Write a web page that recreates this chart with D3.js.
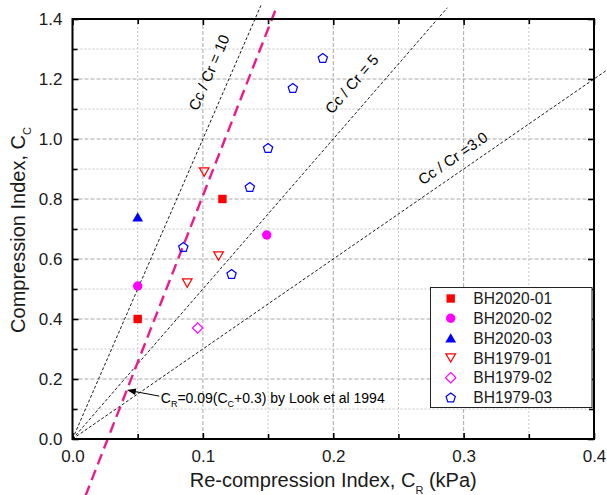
<!DOCTYPE html>
<html><head><meta charset="utf-8">
<script src="https://cdn.jsdelivr.net/npm/d3@7"></script>
<style>
html,body{margin:0;padding:0;background:#fff;}
svg{display:block;font-family:Arial,"Liberation Sans",sans-serif;}
</style></head>
<body><svg id="c" width="607" height="495"></svg>
<script>
// ---------- data ----------
const seriesNames = ["BH2020-01","BH2020-02","BH2020-03","BH1979-01","BH1979-02","BH1979-03"];
const bh2020_01 = [[0.050,0.40],[0.115,0.80]];
const bh2020_02 = [[0.050,0.51],[0.149,0.68]];
const bh2020_03 = [[0.050,0.74]];
const bh1979_01 = [[0.101,0.89],[0.112,0.61],[0.088,0.52]];
const bh1979_02 = [[0.096,0.37]];
const bh1979_03 = [[0.085,0.64],[0.122,0.55],[0.136,0.84],[0.150,0.97],[0.169,1.17],[0.192,1.27]];
const ratioValues = [10, 5, 3];           // Cc/Cr reference lines
const ratioEndX = [0.1445, 0.2875, 0.409]; // where each reference line stops
const ratioLabels = ["Cc / Cr = 10", "Cc / Cr = 5", "Cc / Cr =3.0"];
const ratioLabelPos = [[0.1047,1.2217],[0.2142,1.1833],[0.2917,0.9357]];
const lookCcRange = [-0.19, 1.435];       // Cc range of CR = 0.09(Cc+0.3)
const xTicks = [0.0,0.1,0.2,0.3,0.4];
const xMinor = [0.05,0.15,0.25,0.35];
const yTicks = [0.0,0.2,0.4,0.6,0.8,1.0,1.2,1.4];
const yMinor = [0.1,0.3,0.5,0.7,0.9,1.1,1.3];

// ---------- layout ----------
const svg = d3.select("#c");
const L = 72.5, R = 594, T = 19, B = 439;
const x = d3.scaleLinear().domain([0,0.4]).range([L,R]);
const y = d3.scaleLinear().domain([0,1.4]).range([B,T]);
const fmt = d3.format(".1f");

// grid
const g = svg.append("g");
g.selectAll(".gxm").data(xMinor).join("line")
  .attr("x1",d=>x(d)).attr("x2",d=>x(d)).attr("y1",T).attr("y2",B)
  .attr("stroke","#c8c8c8").attr("stroke-dasharray","2,2");
g.selectAll(".gym").data(yMinor).join("line")
  .attr("y1",d=>y(d)).attr("y2",d=>y(d)).attr("x1",L).attr("x2",R)
  .attr("stroke","#c8c8c8").attr("stroke-dasharray","2,2");
g.selectAll(".gx").data(xTicks.slice(1,-1)).join("line")
  .attr("x1",d=>x(d)).attr("x2",d=>x(d)).attr("y1",T).attr("y2",B)
  .attr("stroke","#a8a8a8").attr("stroke-dasharray","4,2");
g.selectAll(".gy").data(yTicks.slice(1,-1)).join("line")
  .attr("y1",d=>y(d)).attr("y2",d=>y(d)).attr("x1",L).attr("x2",R)
  .attr("stroke","#a8a8a8").attr("stroke-dasharray","4,2");

// reference lines Cc/Cr
const line = d3.line().x(d=>x(d[0])).y(d=>y(d[1]));
ratioValues.forEach((r,i)=>{
  svg.append("path").attr("d", line([[0,0],[ratioEndX[i], r*ratioEndX[i]]]))
    .attr("fill","none").attr("stroke","#000").attr("stroke-width",0.9)
    .attr("stroke-dasharray","3,2");
  const ang = -Math.atan2(y(0)-y(r*0.1), x(0.1)-x(0))*180/Math.PI;
  const p = ratioLabelPos[i];
  svg.append("text").attr("transform",`translate(${x(p[0])},${y(p[1])}) rotate(${ang})`)
    .attr("text-anchor","middle").attr("dy","0.35em")
    .attr("font-size",15).text(ratioLabels[i]);
});

// Look et al line
svg.append("path")
  .attr("d", line(lookCcRange.map(c=>[0.09*(c+0.3), c])))
  .attr("fill","none").attr("stroke","#EC1A8C").attr("stroke-width",2.4)
  .attr("stroke-dasharray","11,6");

// annotation arrow
const tip = [0.0417,0.163], tail = [0.0666,0.143];
svg.append("line").attr("x1",x(tail[0])).attr("y1",y(tail[1]))
  .attr("x2",x(tip[0])+6).attr("y2",y(tip[1])+1.1).attr("stroke","#000").attr("stroke-width",1);
{
  const tx=x(tip[0]), ty=y(tip[1]);
  const dx=x(tail[0])-tx, dy=y(tail[1])-ty, len=Math.hypot(dx,dy);
  const ux=dx/len, uy=dy/len, px=-uy, py=ux;
  const hl=9, hw=3.2;
  svg.append("path").attr("d",`M${tx},${ty}L${tx+ux*hl+px*hw},${ty+uy*hl+py*hw}L${tx+ux*hl-px*hw},${ty+uy*hl-py*hw}Z`).attr("fill","#000");
}
const ann = svg.append("text").attr("x",x(0.0677)).attr("y",y(0.12)).attr("font-size",14);
ann.append("tspan").text("C");
ann.append("tspan").attr("font-size",9).attr("dy",4).text("R");
ann.append("tspan").attr("dy",-4).text("=0.09(C");
ann.append("tspan").attr("font-size",9).attr("dy",4).text("C");
ann.append("tspan").attr("dy",-4).text("+0.3) by Look et al 1994");

// axes
function styleAxis(sel){ sel.select(".domain").remove(); sel.selectAll("line").attr("stroke","#000").attr("stroke-width",1.6); sel.selectAll("text").attr("font-size",17).attr("font-family","Arial, Liberation Sans, sans-serif").attr("fill","#1a1a1a"); }
svg.append("g").attr("transform",`translate(0,${B})`).call(d3.axisBottom(x).tickValues(xTicks).tickFormat(fmt).tickSize(-6).tickPadding(11)).call(styleAxis);
svg.append("g").attr("transform",`translate(0,${B})`).call(d3.axisBottom(x).tickValues(xMinor).tickFormat("").tickSize(-5)).call(styleAxis);
svg.append("g").attr("transform",`translate(0,${T})`).call(d3.axisTop(x).tickValues(xTicks).tickFormat("").tickSize(-6)).call(styleAxis);
svg.append("g").attr("transform",`translate(0,${T})`).call(d3.axisTop(x).tickValues(xMinor).tickFormat("").tickSize(-5)).call(styleAxis);
svg.append("g").attr("transform",`translate(${L},0)`).call(d3.axisLeft(y).tickValues(yTicks).tickFormat(fmt).tickSize(-6).tickPadding(10)).call(styleAxis);
svg.append("g").attr("transform",`translate(${L},0)`).call(d3.axisLeft(y).tickValues(yMinor).tickFormat("").tickSize(-5)).call(styleAxis);
svg.append("g").attr("transform",`translate(${R},0)`).call(d3.axisRight(y).tickValues(yTicks).tickFormat("").tickSize(-6)).call(styleAxis);
svg.append("g").attr("transform",`translate(${R},0)`).call(d3.axisRight(y).tickValues(yMinor).tickFormat("").tickSize(-5)).call(styleAxis);
svg.append("rect").attr("x",L).attr("y",T).attr("width",R-L).attr("height",B-T)
  .attr("fill","none").attr("stroke","#000").attr("stroke-width",2);

// axis titles
const xt = svg.append("text").attr("x",(L+R)/2).attr("y",487).attr("text-anchor","middle").attr("font-size",20).attr("fill","#1a1a1a");
xt.append("tspan").text("Re-compression Index, C");
xt.append("tspan").attr("font-size",11).attr("dy",6.5).text("R");
xt.append("tspan").attr("dy",-6.5).text(" (kPa)");
const yt = svg.append("text").attr("transform",`translate(25,230) rotate(-90)`).attr("text-anchor","middle").attr("font-size",20).attr("fill","#1a1a1a");
yt.append("tspan").text("Compression Index, C");
yt.append("tspan").attr("font-size",11).attr("dy",6).text("C");

// markers
const shapes = {
  square: ()=>"M-4.2,-4.2H4.2V4.2H-4.2Z",
  circle: ()=>"M-4.7,0A4.7,4.7 0 1,0 4.7,0A4.7,4.7 0 1,0 -4.7,0Z",
  triUp: ()=>"M0,-4.8L5.4,4.5L-5.4,4.5Z",
  triDown: ()=>"M-4.8,-4.1L4.8,-4.1L0,4.2Z",
  diamond: ()=>"M0,-5.2L5.2,0L0,5.2L-5.2,0Z",
  pentagon: ()=>{ const r=4.9, off=-r*(1-Math.cos(Math.PI/5))/2; const pts=d3.range(5).map(k=>{const a=-Math.PI/2+k*2*Math.PI/5; return [r*Math.cos(a), r*Math.sin(a)-off];}); return "M"+pts.map(p=>p.join(",")).join("L")+"Z"; }
};
const seriesData = [bh2020_01,bh2020_02,bh2020_03,bh1979_01,bh1979_02,bh1979_03];
const seriesShape = ["square","circle","triUp","triDown","diamond","pentagon"];
const seriesColor = ["#FF0000","#FF00FF","#0000FF","#FF0000","#FF00FF","#0000FF"];
const seriesFilled = [true,true,true,false,false,false];
function drawMarker(sel,i){
  sel.attr("d",shapes[seriesShape[i]]())
    .attr("fill",seriesFilled[i]?seriesColor[i]:"none")
    .attr("stroke",seriesColor[i]).attr("stroke-width",seriesFilled[i]?0:1.2);
}
seriesData.forEach((pts,i)=>{
  svg.append("g").selectAll("path").data(pts).join("path")
    .attr("transform",d=>`translate(${x(d[0])},${y(d[1])})`)
    .call(s=>drawMarker(s,i));
});

// legend
const lg = svg.append("g");
lg.append("rect").attr("x",430.5).attr("y",287.5).attr("width",161.5).attr("height",120)
  .attr("fill","#fff").attr("stroke","#222").attr("stroke-width",1);
seriesNames.forEach((n,i)=>{
  const cy = 298.5 + i*19.8;
  lg.append("path").attr("transform",`translate(450.7,${cy})`).call(s=>drawMarker(s,i));
  lg.append("text").attr("x",473.3).attr("y",cy).attr("dy","0.36em").attr("font-size",15.6).attr("fill","#1a1a1a").text(n);
});
</script></body></html>
